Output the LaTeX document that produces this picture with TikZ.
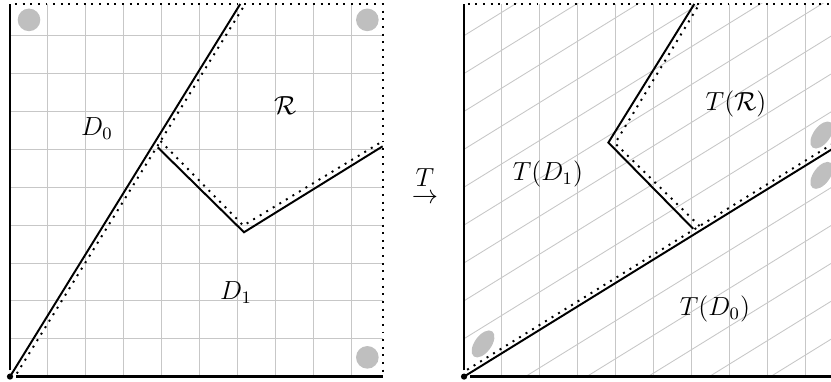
\documentclass[tikz,border=0pt]{standalone}
\begin{document}
\begin{tikzpicture}[
		grille/.style={black!22, line width=.4pt},
		bord/.style={line width=1.1pt},
		trait/.style={line width=.9pt},
		pointille/.style={line width=.9pt, dash pattern=on .9pt off 2.6pt},
		tache/.style={fill=black!25}]
		\useasboundingbox (-.161,-.08) rectangle (13.22,6.064);

		\foreach \k in {1,...,9} {
			\draw[grille] (.61*\k,0) -- (.61*\k,6);
			\draw[grille] (0,.61*\k) -- (6,.61*\k);
		}
		\fill[tache] (.306,5.744) circle(.182);
		\fill[tache] (5.754,5.744) circle(.182);
		\fill[tache] (5.754,.31) circle(.182);

		\draw[bord] (0,.1) -- (0,6);
		\draw[bord] (.1,0) -- (6,0);
		\fill (0,0) circle(.05);
		\draw[pointille] (.08,6) -- (6,6) -- (6,.06);

		\draw[trait] (0,0) -- (3.708,6);
		\draw[pointille] (.11,.05) -- (3.788,6);
		\draw[trait] (2.38,3.69) -- (3.768,2.324) -- (6,3.708);
		\draw[pointille] (2.424,3.792) -- (3.757,2.432) -- (6,3.79);

		\draw (1.4,3.99) node (d0) {\large$D_0$};
		\draw (4.43,4.36) node (r) {\large$\mathcal{R}$};
		\draw (3.64,1.36) node (d1) {\large$D_1$};

		\draw (6.683,3.2) node[inner sep=0pt] (t) {\large$T$};
		\draw (6.683,2.86) node[inner sep=0pt] (fleche) {\large$\to$};

		\begin{scope}[xshift=7.311cm]
			\begin{scope}
				\clip (0,0) rectangle (6,6);
				\foreach \k in {-7,...,9}
					\draw[grille] (0,.61*\k) -- (6,.61*\k+3.708);
			\end{scope}
			\foreach \k in {1,...,9}
				\draw[grille] (.61*\k,0) -- (.61*\k,6);
			\fill[tache, rotate around={54:(.306,.526)}] (.306,.526) ellipse (.25 and .135);
			\fill[tache, rotate around={54:(5.76,3.89)}] (5.76,3.89) ellipse (.25 and .135);
			\fill[tache, rotate around={54:(5.76,3.24)}] (5.76,3.24) ellipse (.25 and .135);

			\draw[bord] (0,.1) -- (0,6);
			\draw[bord] (.1,0) -- (6,0);
			\fill (0,0) circle(.05);
			\draw[pointille] (.06,6) -- (6,6) -- (6,.06);

			\draw[trait] (0,0) -- (6,3.708);
			\draw[pointille] (.05,.11) -- (6,3.788);
			\draw[trait] (3.69,2.38) -- (2.324,3.768) -- (3.708,6);
			\draw[pointille] (3.792,2.424) -- (2.432,3.757) -- (3.79,6);

			\draw (1.35,3.26) node (td1) {\large$T(D_1)$};
			\draw (4.38,4.39) node (tr) {\large$T(\mathcal{R})$};
			\draw (4.04,1.09) node (td0) {\large$T(D_0)$};
		\end{scope}
	\end{tikzpicture}
\end{document}
